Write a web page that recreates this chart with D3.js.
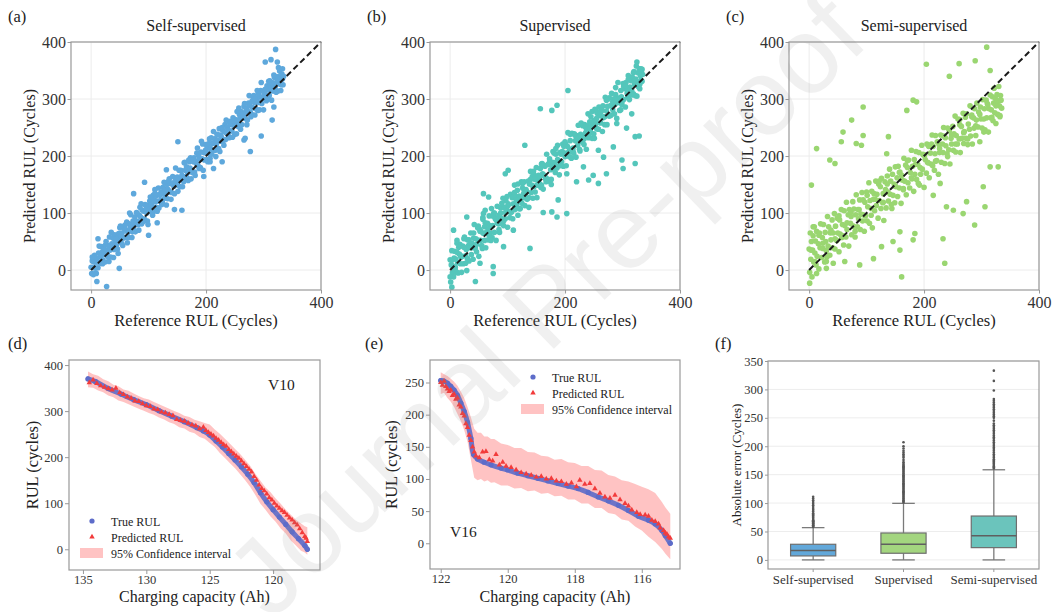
<!DOCTYPE html>
<html>
<head>
<meta charset="utf-8">
<script src="https://cdn.jsdelivr.net/npm/d3@7"></script>
<style>
  body { margin: 0; background: #fff; }
  text { font-family: 'Liberation Serif', 'Times New Roman', serif; }
</style>
</head>
<body>
<div id="chart"></div>
<script>
// ---- data ----
var scatterXTicks = [0, 200, 400];
var scatterYTicks = [0, 100, 200, 300, 400];

// (a) self-supervised: [reference RUL, predicted RUL]
var selfPts = [[0,5],[1,-6],[2,16],[3,4],[4,-8],[5,14],[6,26],[7,4],[8,14],[9,-6],[10,21],[11,14],[12,4],[13,30],[14,14],[16,24],[17,12],[18,41],[19,31],[20,18],[22,37],[23,27],[24,14],[25,44],[27,34],[28,29],[29,23],[30,43],[32,58],[33,35],[34,23],[36,46],[37,42],[38,56],[40,36],[41,62],[42,50],[44,43],[45,57],[46,37],[48,64],[49,52],[50,74],[52,59],[53,47],[54,65],[56,56],[57,76],[58,72],[60,57],[61,70],[62,84],[64,66],[65,57],[66,81],[68,74],[69,97],[70,80],[72,67],[73,86],[74,75],[76,93],[77,67],[78,86],[80,100],[81,85],[82,80],[84,96],[85,110],[86,93],[88,81],[89,105],[90,90],[92,103],[93,89],[94,115],[96,105],[97,100],[98,86],[100,114],[101,107],[102,121],[104,103],[105,115],[106,108],[108,131],[109,103],[110,123],[112,120],[113,110],[114,131],[116,121],[117,144],[118,109],[120,131],[121,122],[122,137],[124,119],[125,145],[126,135],[128,126],[129,141],[130,134],[132,150],[133,125],[134,141],[136,160],[137,137],[138,152],[140,136],[141,151],[142,164],[144,147],[145,134],[146,162],[148,154],[149,160],
  [150,163],[151,149],[153,175],[154,159],[155,146],[157,174],[158,166],[160,161],[161,155],[162,188],[164,175],[165,164],[166,181],[168,171],[169,157],[171,190],[172,179],[173,197],[175,175],[176,171],[178,190],[179,197],[180,172],[182,191],[183,187],[184,205],[186,183],[187,201],[189,195],[190,180],[191,207],[193,195],[194,221],[196,206],[197,193],[198,206],[200,220],[201,194],[202,215],[204,205],[205,222],[207,196],[208,213],[209,232],[211,222],[212,210],[214,223],[215,230],[216,210],[218,221],[219,238],[220,227],[222,213],[223,248],[225,237],[226,226],[227,233],[229,245],[230,227],[232,242],[233,255],[234,229],[236,240],[237,251],[238,246],[240,232],[241,259],[243,244],[244,255],[245,244],[247,267],[248,254],[250,238],[251,264],[252,261],[254,278],[255,257],[256,252],[258,273],[259,266],[261,278],[262,255],[263,274],[265,268],[266,287],[268,266],[269,277],[270,284],[272,263],[273,278],[274,293],[276,288],[277,277],[279,273],[280,296],[281,285],[283,306],[284,294],[286,283],[287,294],[288,301],[290,280],[291,309],[292,294],[294,303],[295,315],[297,292],[298,304],[299,314],[301,312],[302,301],[304,307],[305,297],[306,323],[308,316],[309,331],[310,306],[312,324],[313,318],[315,329],[316,314],[317,327],[319,338],[320,320],[321,314],[322,328],[323,339],[324,333],[325,314],[326,339],[327,331],[328,349],[329,326],[330,338],[331,325],[332,344],[333,335],[334,325],[335,340],
  [5,22],[8,-5],[14,42],[20,11],[26,50],[31,15],[35,66],[39,22],[43,55],[47,29],[51,77],[55,43],[59,79],[63,48],[67,100],[71,57],[75,83],[79,101],[83,70],[87,116],[91,85],[95,113],[99,80],[103,128],[107,96],[111,141],[115,103],[119,133],[123,115],[127,154],[131,114],[135,156],[139,124],[143,153],[147,179],[151,138],[156,175],[159,146],[163,189],[167,162],[170,193],[174,160],[177,192],[181,166],[185,214],[188,178],[192,226],[195,175],[199,210],[203,190],[206,230],[210,203],[213,243],[217,199],[221,237],[224,208],[228,250],[231,219],[235,263],[239,235],[242,261],[246,233],[249,262],[253,239],[257,284],[260,247],[264,273],[267,292],[271,255],[275,306],[278,269],[282,300],[285,272],[289,315],[293,281],[296,329],[300,281],[303,317],[307,301],[311,332],[314,298],[318,342],[322,312],[326,355],[330,315],[333,353],
  [321,387],[303,365],[313,369],[324,365],[296,235],[277,208],[266,228],[268,231],[315,263],[318,286],[151,225],[131,176],[158,105],[145,106],[111,134],[100,61],[115,83],[74,134],[93,154],[12,55],[49,3],[27,-29],[10,-20],[2,23],[196,164],[213,178],[207,190],[228,190]];

// (b) supervised
var supPts = [[0,18],[1,-21],[2,9],[3,34],[4,-5],[5,7],[6,-12],[7,21],[8,33],[9,5],[10,19],[11,-4],[12,47],[13,13],[14,-5],[16,28],[17,45],[18,11],[19,23],[20,-4],[22,42],[23,11],[24,40],[25,58],[27,25],[28,36],[29,-1],[30,53],[32,43],[33,16],[34,39],[36,65],[37,27],[38,39],[40,19],[41,56],[42,80],[44,38],[45,55],[46,32],[48,74],[49,52],[50,24],[52,71],[53,52],[54,67],[56,38],[57,89],[58,64],[60,52],[61,83],[62,39],[64,64],[65,82],[66,53],[68,95],[69,78],[70,65],[72,108],[73,57],[74,78],[76,100],[77,66],[78,92],[80,52],[81,88],[82,112],[84,81],[85,96],[86,66],[88,109],[89,91],[90,81],[92,126],[93,78],[94,110],[96,90],[97,122],[98,106],[100,75],[101,113],[102,103],[104,92],[105,133],[106,102],[108,127],[109,90],[110,116],[112,149],[113,106],[114,129],[116,114],[117,140],[118,96],[120,130],[121,124],[122,108],[124,155],[125,117],[126,144],[128,127],[129,155],[130,113],[132,141],[133,138],[134,124],[136,156],[137,110],[138,151],[140,173],[141,136],[142,149],[144,126],[145,169],[146,146],[148,137],[149,165],
  [150,180],[151,127],[153,157],[154,166],[155,152],[157,178],[158,145],[160,187],[161,169],[162,142],[164,166],[165,182],[166,160],[168,203],[169,160],[171,185],[172,156],[173,195],[175,176],[176,150],[178,189],[179,208],[180,178],[182,188],[183,171],[184,203],[186,179],[187,219],[189,192],[190,167],[191,206],[193,203],[194,190],[196,221],[197,182],[198,205],[200,199],[201,221],[202,183],[204,217],[205,241],[207,199],[208,212],[209,227],[211,197],[212,240],[214,214],[215,205],[216,239],[218,227],[219,198],[220,236],[222,219],[223,254],[225,230],[226,209],[227,238],[229,255],[230,224],[232,234],[233,220],[234,255],[236,250],[237,212],[238,246],[240,274],[241,232],[243,260],[244,243],[245,269],[247,231],[248,254],[250,262],[251,231],[252,282],[254,257],[255,248],[256,275],[258,247],[259,286],[261,271],[262,258],[263,278],[265,243],[266,288],[268,269],[269,255],[270,303],[272,279],[273,255],[274,287],[276,271],[277,302],[279,271],[280,289],[281,310],[283,281],[284,300],[286,274],[287,291],[288,308],[290,266],[291,302],[292,329],[294,294],[295,280],[297,315],[298,304],[299,290],[301,327],[302,299],[304,318],[305,286],[306,329],[308,310],[309,303],[310,341],[312,299],[313,321],[315,332],[316,315],[317,338],[319,309],[320,348],[321,326],[322,306],[323,335],[324,358],[325,305],[326,329],[327,346],[328,321],[329,353],[330,326],[331,341],[332,333],[333,348],[334,331],[335,343],
  [3,17],[9,1],[15,40],[21,24],[27,12],[33,53],[38,47],[44,41],[49,77],[55,43],[60,76],[66,72],[71,52],[77,100],[82,83],[88,100],[93,86],[99,129],[104,102],[110,128],[115,123],[121,107],[126,152],[132,136],[137,127],[143,164],[148,159],[154,149],[159,186],[165,164],[170,185],[176,159],[181,205],[187,194],[192,183],[198,217],[203,205],[209,238],[214,208],[220,233],[225,212],[231,253],[236,241],[242,238],[247,278],[253,263],[258,247],[264,281],[269,269],[275,300],[280,272],[286,300],[291,294],[297,281],[302,322],[308,317],[313,310],[319,346],[324,330],[330,318],[334,352],
  [6,2],[12,31],[18,25],[24,55],[30,20],[35,47],[41,65],[46,45],[52,68],[57,92],[63,66],[68,61],[74,95],[79,89],[85,71],[90,117],[96,101],[101,116],[107,102],[112,136],[118,151],[123,125],[129,140],[134,125],[140,159],[145,173],[151,149],[156,164],[162,184],[167,155],[173,190],[178,182],[184,213],[189,183],[195,208],[200,225],[206,206],[211,196],[217,237],[222,231],[228,258],[233,230],[239,253],[244,250],[250,239],[255,278],[261,277],[266,267],[272,298],[277,270],[283,295],[288,320],[294,299],[299,295],[305,323],[310,334],[316,307],[321,332],[327,329],[332,353],
  [325,365],[322,187],[301,178],[299,193],[322,234],[329,235],[284,216],[267,198],[258,210],[249,166],[241,158],[220,155],[232,181],[203,169],[203,99],[186,93],[177,102],[162,101],[159,149],[188,123],[139,38],[128,134],[130,219],[157,283],[177,280],[186,289],[205,315],[258,152],[272,169],[290,257],[307,249],[316,274],[296,295],[255,266],
  [3,-30],[0,-12],[44,-20],[75,-6],[75,6],[52,12],[12,52],[6,70],[29,93],[61,105],[58,99],[96,169],[101,175],[110,70],[93,41],[58,134],[67,128]];

// (c) semi-supervised
var semiPts = [[0,37],[1,-4],[2,65],[3,19],[4,50],[5,-12],[6,35],[7,60],[8,14],[9,76],[10,30],[11,51],[12,9],[13,68],[14,24],[16,46],[17,2],[18,65],[19,39],[20,81],[22,22],[23,57],[24,38],[25,80],[27,14],[28,66],[29,50],[30,34],[32,94],[33,42],[34,76],[36,26],[37,65],[38,53],[40,88],[41,39],[42,65],[44,99],[45,37],[46,77],[48,52],[49,91],[50,65],[52,32],[53,88],[54,63],[56,106],[57,57],[58,80],[60,44],[61,104],[62,78],[64,58],[65,119],[66,71],[68,97],[69,42],[70,106],[72,82],[73,94],[74,62],[76,120],[77,77],[78,107],[80,58],[81,97],[82,132],[84,76],[85,106],[86,90],[88,123],[89,71],[90,98],[92,136],[93,86],[94,123],[96,68],[97,119],[98,95],[100,137],[101,86],[102,111],[104,153],[105,82],[106,122],[108,108],[109,138],[110,74],[112,124],[113,134],[114,104],[116,156],[117,113],[118,133],[120,91],[121,151],[122,122],[124,146],[125,108],[126,161],[128,118],[129,134],[130,87],[132,155],[133,141],[134,109],[136,165],[137,137],[138,121],[140,177],[141,133],[142,156],[144,108],[145,168],[146,131],[148,151],[149,118],
  [150,181],[151,146],[153,162],[154,129],[155,182],[157,144],[158,172],[160,117],[161,166],[162,158],[164,141],[165,196],[166,156],[168,184],[169,132],[171,180],[172,153],[173,193],[175,144],[176,171],[178,210],[179,160],[180,182],[182,138],[183,194],[184,168],[186,208],[187,159],[189,185],[190,152],[191,206],[193,180],[194,168],[196,219],[197,177],[198,203],[200,145],[201,202],[202,194],[204,170],[205,221],[207,188],[208,217],[209,162],[211,205],[212,186],[214,237],[215,183],[216,217],[218,175],[219,204],[220,236],[222,192],[223,225],[225,168],[226,220],[227,206],[229,237],[230,189],[232,221],[233,206],[234,250],[236,187],[237,232],[238,218],[240,204],[241,249],[243,211],[244,244],[245,186],[247,231],[248,221],[250,252],[251,210],[252,239],[254,270],[255,207],[256,236],[258,221],[259,265],[261,230],[262,255],[263,206],[265,252],[266,231],[268,275],[269,222],[270,243],[272,268],[273,231],[274,274],[276,220],[277,256],[279,247],[280,288],[281,235],[283,269],[284,221],[286,267],[287,249],[288,283],[290,236],[291,263],[292,293],[294,251],[295,277],[297,225],[298,286],[299,265],[301,249],[302,299],[304,265],[305,283],[306,246],[308,298],[309,267],[310,292],[312,242],[313,283],[315,307],[316,267],[317,281],[319,304],[320,262],[321,293],[322,319],[323,276],[324,301],[325,257],[326,291],[327,308],[328,273],[329,297],[330,322],[331,288],[332,269],[333,306],[334,298],[335,284],
  [3,35],[10,15],[17,61],[24,47],[31,23],[38,70],[45,55],[52,95],[59,60],[66,83],[73,102],[80,68],[87,106],[94,97],[101,131],[108,96],[115,124],[122,156],[129,119],[136,151],[143,115],[150,147],[157,171],[164,143],[171,192],[178,162],[185,185],[192,149],[199,202],[206,189],[213,221],[220,191],[227,213],[234,235],[241,199],[248,237],[255,221],[262,264],[269,241],[276,230],[283,272],[290,253],[297,273],[304,242],[311,290],[318,268],[325,288],[332,271],
  [309,391],[289,367],[261,362],[204,361],[244,340],[315,350],[315,181],[329,181],[303,146],[306,111],[288,79],[274,120],[268,99],[251,105],[239,111],[233,55],[236,12],[216,131],[228,152],
  [158,67],[146,50],[158,35],[181,53],[184,64],[161,-12],[126,41],[112,20],[88,9],[62,15],[30,3],[13,-6],[1,-23],[30,15],[42,12],
  [13,213],[45,187],[36,193],[74,263],[94,286],[94,236],[82,222],[91,219],[59,242],[56,225],[4,149],[7,76],[138,234],[135,204],[170,280],[181,298],[187,295]];

// (d) V10 cell: [charging capacity, RUL]
var v10Ticks = [135, 130, 125, 120];
var v10YTicks = [0, 100, 200, 300, 400];
var v10True = [[134.6,370],[134,364],[133,349],[132,337],[131,325],[130,314],[129,301],[128,289],[127,277],[126,264],[125.5,257],[125,248],[124.5,235],[124,222],[123.5,208],[123,194],[122.5,179],[122,163],[121.5,145],[121,123],[120.5,103],[120,86],[119.5,70],[119,54],[118.5,38],[118,23],[117.5,8],[117.3,0]];
var v10Pred = [[134.5,362],[134.2,368],[133.9,360],[133.6,355],[133.3,352],[133,349],[132.7,346],[132.4,350],[132.1,340],[131.8,336],[131.5,331],[131.2,328],[130.9,322],[130.6,321],[130.3,316],[130,312],[129.7,310],[129.4,305],[129.1,303],[128.8,298],[128.5,296],[128.2,293],[127.9,290],[127.6,282],[127.3,280],[127,278],[126.7,274],[126.4,270],[126.1,268],[125.8,262],[125.5,265],[125.3,258],[125.1,254],[124.9,250],[124.7,246],[124.5,241],[124.3,237],[124.1,232],[123.9,227],[123.7,224],[123.5,217],[123.3,212],[123.1,207],[122.9,202],[122.7,198],[122.5,192],[122.3,186],[122.1,180],[121.9,174],[121.7,168],[121.5,158],[121.3,150],[121.1,140],[120.9,132],[120.7,127],[120.5,120],[120.3,112],[120.1,107],[119.9,100],[119.7,94],[119.5,89],[119.3,84],[119.1,80],[118.9,74],[118.7,68],[118.5,64],[118.3,58],[118.1,53],[117.9,45],[117.7,36],[117.5,28],[117.4,24],[117.3,17]];
var v10Band = [[134.6,352,386],[134.2,351,380],[133.8,345,377],[133.4,341,369],[133,334,365],[132.6,330,357],[132.2,323,354],[131.8,320,347],[131.4,315,344],[131,310,338],[130.6,305,333],[130.2,301,328],[129.8,296,325],[129.4,292,320],[129,286,315],[128.6,282,310],[128.2,276,305],[127.8,272,300],[127.4,265,296],[127,262,290],[126.6,255,287],[126.2,252,281],[125.8,244,278],[125.4,240,274],[125,231,271],[124.6,222,260],[124.2,209,251],[123.8,198,240],[123.4,187,229],[123,176,218],[122.6,163,207],[122.2,150,194],[121.8,135,181],[121.4,118,164],[121,99,149],[120.6,86,134],[120.2,71,124],[119.8,60,110],[119.4,45,99],[119,34,86],[118.6,19,75],[118.2,8,64],[117.8,-3,56],[117.5,-7,50],[117.3,-12,48]];

// (e) V16 cell
var v16Ticks = [122, 120, 118, 116];
var v16YTicks = [0, 50, 100, 150, 200, 250];
var v16True = [[122,253],[121.9,252],[121.8,249],[121.7,244],[121.6,238],[121.5,230],[121.4,218],[121.3,205],[121.2,188],[121.1,163],[121.02,138],[120.9,131],[120.7,126],[120.5,122],[120.2,117],[120,114],[119.7,109],[119.4,105],[119.1,101],[118.8,97],[118.5,93],[118.2,89],[117.9,85],[117.6,79],[117.3,72],[117,66],[116.7,59],[116.4,51],[116.1,42],[115.8,36],[115.6,30],[115.4,20],[115.3,12],[115.15,0]];
var v16Pred = [[122,250],[121.95,246],[121.9,252],[121.85,244],[121.8,240],[121.75,236],[121.7,238],[121.65,230],[121.6,232],[121.55,224],[121.5,226],[121.45,215],[121.4,212],[121.35,202],[121.3,198],[121.25,186],[121.2,180],[121.15,168],[121.1,160],[121.05,150],[121,142],[120.95,136],[120.85,133],[120.75,142],[120.65,143],[120.55,130],[120.45,128],[120.35,138],[120.25,122],[120.15,126],[120.05,120],[119.9,118],[119.75,114],[119.6,110],[119.45,108],[119.3,106],[119.15,103],[119,104],[118.85,100],[118.7,101],[118.55,97],[118.4,96],[118.25,92],[118.1,94],[117.95,88],[117.85,98],[117.7,92],[117.55,93],[117.4,85],[117.25,78],[117.1,72],[116.95,70],[116.8,75],[116.65,68],[116.5,62],[116.4,58],[116.3,52],[116.15,48],[116.05,45],[115.9,44],[115.8,42],[115.7,36],[115.6,34],[115.5,30],[115.45,24],[115.35,20],[115.3,16],[115.25,14],[115.2,10],[115.15,8]];
var v16Band = [[122,232,266],[121.9,234,263],[121.8,226,260],[121.7,220,256],[121.6,212,251],[121.5,201,245],[121.4,190,236],[121.3,176,226],[121.2,158,212],[121.1,130,196],[121,102,178],[120.9,98,172],[120.8,100,172],[120.7,96,166],[120.6,98,166],[120.5,94,162],[120.4,95,162],[120.2,90,155],[120,90,153],[119.8,85,148],[119.6,86,148],[119.4,81,142],[119.2,82,141],[119,77,136],[118.8,78,135],[118.6,73,130],[118.4,74,131],[118.2,68,126],[118,68,125],[117.8,62,120],[117.6,62,120],[117.4,55,114],[117.2,55,113],[117,47,106],[116.8,45,104],[116.6,37,98],[116.4,35,96],[116.2,26,92],[116,20,88],[115.8,10,84],[115.6,2,78],[115.4,-9,64],[115.3,-16,56],[115.15,-25,46]];

// (f) absolute error boxplots
var boxCats = ["Self-supervised", "Supervised", "Semi-supervised"];
var boxQ1 = [7, 11.7, 21.6];
var boxMed = [16.4, 27.5, 42.7];
var boxQ3 = [27.5, 47.4, 77.2];
var boxLo = [0, 0, 0];
var boxHi = [56.8, 99.5, 158.6];
var boxFliers = [
  [58,59,60,61,62,63,64,65,66,67,68,69,70,72,74,76,78,80,82,85,88,90,93,96,99,102,105,108,111],
  [101,103,105,107,109,111,113,115,117,119,121,123,125,127,129,131,133,135,137,139,141,143,145,147,149,151,153,155,157,159,161,163,165,167,169,172,176,180,183,186,189,192,196,200,207],
  [161,163,165,167,169,171,173,175,177,180,183,186,189,192,195,198,201,204,207,210,213,216,219,222,225,228,231,234,237,240,245,250,253,256,259,262,265,268,271,274,277,280,283,298,315,333]
];
var boxYTicks = [0, 50, 100, 150, 200, 250, 300, 350];

var colors = { self: "#5ea8dc", sup: "#54c6bb", semi: "#9ad671",
  boxSelf: "#62a8da", boxSup: "#a3d57f", boxSemi: "#6bc4bc",
  trueRul: "#5d6cc9", pred: "#f23b3b", band: "#ff9e9e" };
var boxColors = [colors.boxSelf, colors.boxSup, colors.boxSemi];

var serif = "'Liberation Serif','Times New Roman',serif";

var svg = d3.select("#chart").append("svg")
  .attr("width", 1055).attr("height", 612);

function panel(box, xd, yd) {
  return {
    box: box,
    x: d3.scaleLinear().domain(xd).range([box.l, box.r]),
    y: d3.scaleLinear().domain(yd).range([box.b, box.t])
  };
}

function styleAxis(g, fs) {
  g.select(".domain").remove();
  g.selectAll(".tick line").attr("stroke", "#999");
  g.selectAll(".tick text").attr("fill", "#333")
    .style("font-size", fs + "px").style("font-family", serif);
}

function axes(p, o) {
  var b = p.box;
  var gx = svg.append("g").attr("transform", "translate(0," + b.b + ")")
    .call(d3.axisBottom(p.x).tickValues(o.xt).tickSize(o.tick).tickPadding(o.xpad).tickFormat(d3.format("d")));
  var gy = svg.append("g").attr("transform", "translate(" + b.l + ",0)")
    .call(d3.axisLeft(p.y).tickValues(o.yt).tickSize(o.tick).tickPadding(o.ypad).tickFormat(d3.format("d")));
  styleAxis(gx, o.fs);
  styleAxis(gy, o.fs);
}

function frame(p) {
  var b = p.box;
  svg.append("rect").attr("x", b.l).attr("y", b.t)
    .attr("width", b.r - b.l).attr("height", b.b - b.t)
    .attr("fill", "none").attr("stroke", "#999").attr("stroke-width", 1.2);
}

function grid(p, xt, yt) {
  var g = svg.append("g").attr("stroke", "#ececec").attr("stroke-width", 1);
  g.selectAll(".gx").data(xt).join("line")
    .attr("x1", d => p.x(d)).attr("x2", d => p.x(d))
    .attr("y1", p.box.t).attr("y2", p.box.b);
  g.selectAll(".gy").data(yt).join("line")
    .attr("y1", d => p.y(d)).attr("y2", d => p.y(d))
    .attr("x1", p.box.l).attr("x2", p.box.r);
}

function label(x, y, txt, fs, opts) {
  opts = opts || {};
  var t = svg.append("text").attr("x", x).attr("y", y).text(txt)
    .attr("fill", opts.fill || "#222").style("font-size", fs + "px")
    .attr("text-anchor", opts.anchor || "start");
  if (opts.rotate) {
    t.attr("transform", "rotate(-90," + x + "," + y + ")").attr("dy", "0.35em");
  }
  return t;
}

// ---- top row: scatter panels ----
var tops = [
  { tag: "(a)", title: "Self-supervised", pts: selfPts, color: colors.self, l: 71 },
  { tag: "(b)", title: "Supervised", pts: supPts, color: colors.sup, l: 430 },
  { tag: "(c)", title: "Semi-supervised", pts: semiPts, color: colors.semi, l: 789 }
];

tops.forEach(function(t) {
  var p = panel({ l: t.l, r: t.l + 250, t: 42, b: 290 }, [-35, 400], [-35, 400]);
  grid(p, scatterXTicks, scatterYTicks);
  svg.append("g").selectAll("circle").data(t.pts).join("circle")
    .attr("cx", d => p.x(d[0])).attr("cy", d => p.y(d[1]))
    .attr("r", 2.8).attr("fill", t.color);
  svg.append("line")
    .attr("x1", p.x(0)).attr("y1", p.y(0)).attr("x2", p.x(400)).attr("y2", p.y(400))
    .attr("stroke", "#1a1a1a").attr("stroke-width", 2).attr("stroke-dasharray", "6,3.5");
  frame(p);
  axes(p, { xt: scatterXTicks, yt: scatterYTicks, tick: 3.5, xpad: 3.5, ypad: 1.5, fs: 16 });
  var cx = (p.box.l + p.box.r) / 2;
  label(cx, 31, t.title, 16, { anchor: "middle" });
  label(cx, 326, "Reference RUL (Cycles)", 16.5, { anchor: "middle" });
  label(t.l - 42, (p.box.t + p.box.b) / 2, "Predicted RUL (Cycles)", 16, { anchor: "middle", rotate: true });
  label(t.l - 63, 22, t.tag, 16.5);
});

// ---- bottom row: RUL curves ----
var tri = d3.symbol().type(d3.symbolTriangle).size(13);

function rulPanel(p, band, trueData, predData) {
  var area = d3.area().x(d => p.x(d[0])).y0(d => p.y(d[1])).y1(d => p.y(d[2]));
  svg.append("path").datum(band).attr("d", area)
    .attr("fill", colors.band).attr("opacity", 0.62);
  var line = d3.line().x(d => p.x(d[0])).y(d => p.y(d[1])).curve(d3.curveCatmullRom);
  svg.append("path").datum(trueData).attr("d", line)
    .attr("fill", "none").attr("stroke", colors.trueRul).attr("stroke-width", 5)
    .attr("stroke-linecap", "round").attr("opacity", 0.9);
  svg.append("g").selectAll("circle").data(trueData).join("circle")
    .attr("cx", d => p.x(d[0])).attr("cy", d => p.y(d[1])).attr("r", 2.6)
    .attr("fill", colors.trueRul);
  svg.append("g").selectAll("path").data(predData).join("path")
    .attr("d", tri)
    .attr("transform", d => "translate(" + p.x(d[0]) + "," + p.y(d[1]) + ")")
    .attr("fill", colors.pred);
}

function legend(x, y) {
  var g = svg.append("g");
  g.append("circle").attr("cx", x + 12).attr("cy", y).attr("r", 2.6).attr("fill", colors.trueRul);
  g.append("path").attr("d", tri).attr("transform", "translate(" + (x + 12) + "," + (y + 16) + ")").attr("fill", colors.pred);
  g.append("rect").attr("x", x).attr("y", y + 27).attr("width", 23).attr("height", 10)
    .attr("fill", colors.band).attr("opacity", 0.62);
  label(x + 31, y + 4.5, "True RUL", 12);
  label(x + 31, y + 20.5, "Predicted RUL", 12);
  label(x + 31, y + 36.5, "95% Confidence interval", 12);
}

var pd = panel({ l: 69, r: 320, t: 360, b: 570 }, [136.1, 116.3], [-45, 411]);
rulPanel(pd, v10Band, v10True, v10Pred);
frame(pd);
axes(pd, { xt: v10Ticks, yt: v10YTicks, tick: 4, xpad: 1, ypad: 2, fs: 12.5 });
legend(80, 521);
label(268, 390, "V10", 15.5);
label((pd.box.l + pd.box.r) / 2, 602, "Charging capacity (Ah)", 16, { anchor: "middle" });
label(32, (pd.box.t + pd.box.b) / 2, "RUL (cycles)", 16.5, { anchor: "middle", rotate: true });
label(8, 349, "(d)", 16.5);

var pe = panel({ l: 430, r: 680, t: 360, b: 569 }, [122.32, 114.86], [-40, 285]);
rulPanel(pe, v16Band, v16True, v16Pred);
frame(pe);
axes(pe, { xt: v16Ticks, yt: v16YTicks, tick: 4, xpad: 1, ypad: 2, fs: 12.5 });
legend(521, 377);
label(450, 537, "V16", 15.5);
label((pe.box.l + pe.box.r) / 2, 602, "Charging capacity (Ah)", 16, { anchor: "middle" });
label(391, (pe.box.t + pe.box.b) / 2, "RUL (cycles)", 16.5, { anchor: "middle", rotate: true });
label(365, 349, "(e)", 16.5);

// ---- (f) boxplot ----
var fb = { l: 768, r: 1039, t: 361, b: 569 };
var fx = d3.scaleBand().domain(boxCats).range([fb.l, fb.r]).padding(0);
var fy = d3.scaleLinear().domain([-16, 350]).range([fb.b, fb.t]);
var fg = svg.append("g").attr("stroke", "#ededed");
fg.selectAll("line").data(boxYTicks).join("line")
  .attr("x1", fb.l).attr("x2", fb.r).attr("y1", d => fy(d)).attr("y2", d => fy(d));

var bw = fx.bandwidth() * 0.5;
boxCats.forEach(function(c, i) {
  var cx = fx(c) + fx.bandwidth() / 2;
  var g = svg.append("g");
  g.append("line").attr("x1", cx).attr("x2", cx).attr("y1", fy(boxLo[i])).attr("y2", fy(boxQ1[i]))
    .attr("stroke", "#7a7a7a").attr("stroke-width", 1.3);
  g.append("line").attr("x1", cx).attr("x2", cx).attr("y1", fy(boxQ3[i])).attr("y2", fy(boxHi[i]))
    .attr("stroke", "#7a7a7a").attr("stroke-width", 1.3);
  [boxLo[i], boxHi[i]].forEach(function(v) {
    g.append("line").attr("x1", cx - bw / 4).attr("x2", cx + bw / 4).attr("y1", fy(v)).attr("y2", fy(v))
      .attr("stroke", "#7a7a7a").attr("stroke-width", 1.3);
  });
  g.append("rect").attr("x", cx - bw / 2).attr("width", bw)
    .attr("y", fy(boxQ3[i])).attr("height", fy(boxQ1[i]) - fy(boxQ3[i]))
    .attr("fill", boxColors[i]).attr("stroke", "#6e6e6e").attr("stroke-width", 1.2);
  g.append("line").attr("x1", cx - bw / 2).attr("x2", cx + bw / 2).attr("y1", fy(boxMed[i])).attr("y2", fy(boxMed[i]))
    .attr("stroke", "#5f5f5f").attr("stroke-width", 1.5);
  g.selectAll(".fl").data(boxFliers[i]).join("circle")
    .attr("cx", cx).attr("cy", d => fy(d)).attr("r", 1.3).attr("fill", "#555");
});
svg.append("rect").attr("x", fb.l).attr("y", fb.t).attr("width", fb.r - fb.l).attr("height", fb.b - fb.t)
  .attr("fill", "none").attr("stroke", "#999").attr("stroke-width", 1.2);
var fxa = svg.append("g").attr("transform", "translate(0," + fb.b + ")")
  .call(d3.axisBottom(fx).tickSize(3).tickPadding(3));
styleAxis(fxa, 13);
var fya = svg.append("g").attr("transform", "translate(" + fb.l + ",0)")
  .call(d3.axisLeft(fy).tickValues(boxYTicks).tickSize(3).tickPadding(2));
styleAxis(fya, 12.5);
label(736, (fb.t + fb.b) / 2, "Absolute error (Cycles)", 13, { anchor: "middle", rotate: true });
label(715, 349, "(f)", 16.5);

// ---- watermark ----
svg.append("text").attr("x", 545).attr("y", 305).attr("dy", "0.35em")
  .attr("text-anchor", "middle")
  .attr("transform", "rotate(-44,545,305)")
  .style("font-family", "'Liberation Sans', Arial, sans-serif")
  .style("font-size", "108px")
  .attr("fill", "#888").attr("opacity", 0.12)
  .text("Journal Pre-proof");
</script>
</body>
</html>
